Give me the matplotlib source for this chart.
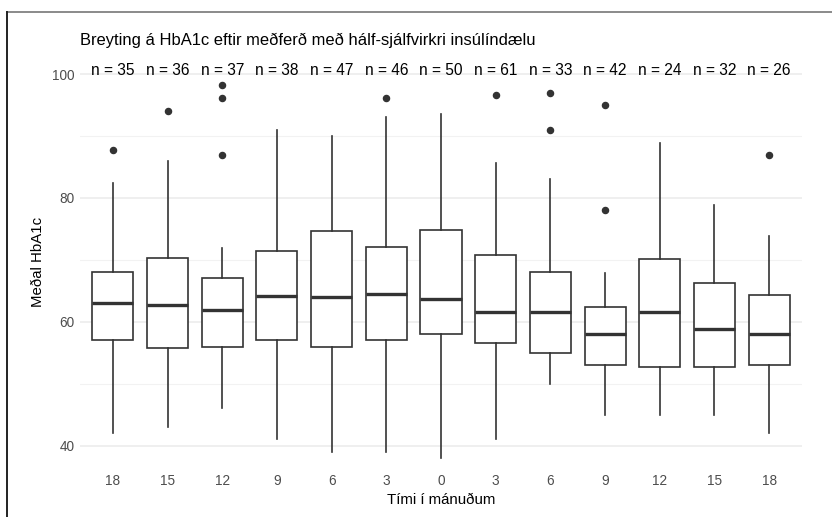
import matplotlib
matplotlib.use("Agg")
import matplotlib.pyplot as plt
from matplotlib.lines import Line2D

plt.rcParams['font.family'] = ['Liberation Sans', 'DejaVu Sans']

# ---- data ----
tick_labels = ["18", "15", "12", "9", "6", "3", "0", "3", "6", "9", "12", "15", "18"]
n_counts = [35, 36, 37, 38, 47, 46, 50, 61, 33, 42, 24, 32, 26]
whisker_low = [42.0, 43.0, 46.0, 41.0, 39.0, 39.0, 38.0, 41.0, 50.0, 45.0, 45.0, 45.0, 42.0]
q1 = [57.0, 55.7, 55.9, 57.0, 55.9, 57.0, 58.0, 56.5, 54.9, 53.0, 52.7, 52.7, 53.0]
median = [63.0, 62.65, 61.95, 64.2, 64.0, 64.5, 63.7, 61.5, 61.5, 58.0, 61.5, 58.9, 58.0]
q3 = [68.0, 70.25, 67.0, 71.4, 74.7, 72.1, 74.8, 70.7, 68.0, 62.4, 70.1, 66.2, 64.4]
whisker_high = [82.4, 85.9, 71.9, 90.9, 90.0, 93.0, 93.5, 85.7, 83.0, 67.9, 88.9, 78.9, 73.9]
outliers = [[87.7], [94.0], [87.0, 96.1, 98.2], [], [], [96.1], [], [96.7],
            [91.0, 97.0], [78.0, 95.0], [], [], [87.0]]

title = "Breyting á HbA1c eftir meðferð með hálf-sjálfvirkri insúlíndælu"
xlabel = "Tími í mánuðum"
ylabel = "Meðal HbA1c"

W, H = 832, 517
fig = plt.figure(figsize=(W / 100, H / 100), dpi=100)
left, right, top, bottom = 80, 802, 58, 466
ax = fig.add_axes([left / W, 1 - bottom / H, (right - left) / W, (bottom - top) / H])

stats = []
for i in range(len(tick_labels)):
    stats.append(dict(med=median[i], q1=q1[i], q3=q3[i], whislo=whisker_low[i],
                      whishi=whisker_high[i], fliers=outliers[i], label=tick_labels[i]))

positions = list(range(1, len(tick_labels) + 1))
dark = "#333333"
ax.bxp(stats, positions=positions, widths=0.75, showcaps=False, patch_artist=True,
       boxprops=dict(facecolor="white", edgecolor=dark, linewidth=1.2),
       whiskerprops=dict(color=dark, linewidth=1.2),
       medianprops=dict(color=dark, linewidth=2.4, solid_capstyle="butt"),
       flierprops=dict(marker="o", markerfacecolor=dark, markeredgecolor=dark, markersize=4.4),
       zorder=3)

for p, n in zip(positions, n_counts):
    ax.text(p, 100.6, f"n = {n}", ha="center", va="center", fontsize=11.2, color="black")

ax.set_xlim(0.4, len(tick_labels) + 0.6)
ax.set_ylim(36.7, 102.6)
ax.set_yticks([40, 60, 80, 100])
ax.set_yticks([50, 70, 90], minor=True)
ax.set_xticks(positions)
ax.set_xticklabels(tick_labels)
ax.grid(axis="y", which="major", color="#EBEBEB", linewidth=1.1, zorder=0)
ax.grid(axis="y", which="minor", color="#F2F2F2", linewidth=0.8, zorder=0)
ax.set_axisbelow(True)
for s in ax.spines.values():
    s.set_visible(False)
ax.tick_params(axis="both", which="both", length=0, labelsize=9.8, labelcolor="#4D4D4D")
ax.tick_params(axis="x", pad=6)
ax.tick_params(axis="y", pad=4)

ax.set_xlabel(xlabel, fontsize=10.8, labelpad=3)
ax.set_ylabel(ylabel, fontsize=10.8, labelpad=5)
fig.text(left / W, 1 - 40 / H, title, ha="left", va="center", fontsize=11.9)

# screenshot frame lines
fig.add_artist(Line2D([7 / W, 1], [1 - 12 / H, 1 - 12 / H], color="#8A8A8A", linewidth=1.4,
                      transform=fig.transFigure))
fig.add_artist(Line2D([7 / W, 7 / W], [1 - 12 / H, 0], color="#222222", linewidth=1.4,
                      transform=fig.transFigure))

fig.savefig("out.png", dpi=100)
